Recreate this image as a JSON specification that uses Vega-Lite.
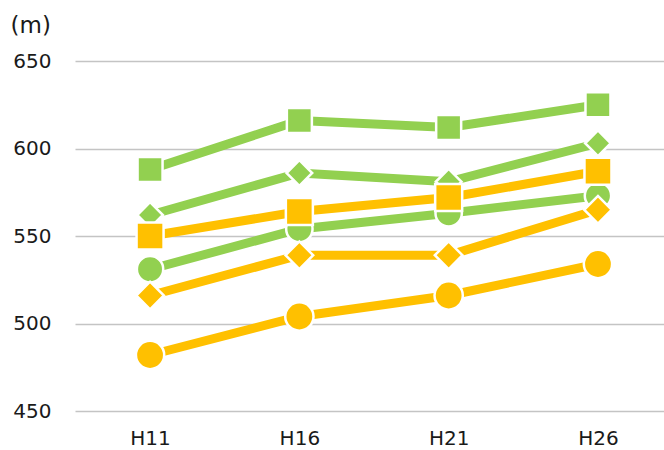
{
  "$schema": "https://vega.github.io/schema/vega-lite/v6.json",
  "width": 589,
  "height": 350,
  "autosize": {"type": "none"},
  "padding": {"left": 75, "top": 61, "right": 0, "bottom": 39},
  "background": "white",
  "config": {
    "font": "DejaVu Sans",
    "view": {"stroke": null}
  },
  "data": {
    "values": [
      {"series": "g1", "year": "H11", "value": 588},
      {"series": "g1", "year": "H16", "value": 616},
      {"series": "g1", "year": "H21", "value": 612},
      {"series": "g1", "year": "H26", "value": 625},
      {"series": "g2", "year": "H11", "value": 562},
      {"series": "g2", "year": "H16", "value": 586},
      {"series": "g2", "year": "H21", "value": 581},
      {"series": "g2", "year": "H26", "value": 603},
      {"series": "g3", "year": "H11", "value": 531},
      {"series": "g3", "year": "H16", "value": 554},
      {"series": "g3", "year": "H21", "value": 563},
      {"series": "g3", "year": "H26", "value": 573},
      {"series": "o1", "year": "H11", "value": 550},
      {"series": "o1", "year": "H16", "value": 564},
      {"series": "o1", "year": "H21", "value": 572},
      {"series": "o1", "year": "H26", "value": 587},
      {"series": "o2", "year": "H11", "value": 516},
      {"series": "o2", "year": "H16", "value": 539},
      {"series": "o2", "year": "H21", "value": 539},
      {"series": "o2", "year": "H26", "value": 565},
      {"series": "o3", "year": "H11", "value": 482},
      {"series": "o3", "year": "H16", "value": 504},
      {"series": "o3", "year": "H21", "value": 516},
      {"series": "o3", "year": "H26", "value": 534}
    ]
  },
  "encoding": {
    "x": {
      "field": "year",
      "type": "ordinal",
      "scale": {"type": "point", "padding": 0.4725, "align": 0.532},
      "axis": {
        "title": null,
        "domain": false,
        "ticks": false,
        "labelAngle": 0,
        "labelFontSize": 20,
        "labelColor": "#1a1a1a",
        "labelPadding": 17
      }
    },
    "y": {
      "field": "value",
      "type": "quantitative",
      "scale": {"domain": [450, 650], "nice": false, "zero": false},
      "axis": {
        "values": [450, 500, 550, 600, 650],
        "title": "(m)",
        "titleAngle": 0,
        "titleAlign": "left",
        "titleBaseline": "middle",
        "titleX": -65,
        "titleY": -36,
        "titleFontSize": 23,
        "titleFontWeight": "normal",
        "titleColor": "#1a1a1a",
        "domain": false,
        "ticks": false,
        "labelFontSize": 20,
        "labelColor": "#1a1a1a",
        "labelPadding": 24,
        "grid": true,
        "gridColor": "#c4c4c4",
        "gridWidth": 1.5
      }
    },
    "color": {
      "field": "series",
      "type": "nominal",
      "scale": {
        "domain": ["g1", "g2", "g3", "o1", "o2", "o3"],
        "range": ["#92D050", "#92D050", "#92D050", "#FFC000", "#FFC000", "#FFC000"]
      },
      "legend": null
    }
  },
  "layer": [
    {
      "mark": {"type": "line", "strokeWidth": 9, "strokeCap": "butt"}
    },
    {
      "mark": {"type": "point", "filled": true, "opacity": 1, "stroke": "white", "strokeWidth": 2.5},
      "encoding": {
        "shape": {
          "field": "series",
          "type": "nominal",
          "scale": {
            "domain": ["g1", "g2", "g3", "o1", "o2", "o3"],
            "range": ["square", "diamond", "circle", "square", "diamond", "circle"]
          },
          "legend": null
        },
        "size": {
          "field": "series",
          "type": "nominal",
          "scale": {
            "domain": ["g1", "g2", "g3", "o1", "o2", "o3"],
            "range": [625, 800, 650, 625, 800, 650]
          },
          "legend": null
        },
        "stroke": {"value": "white"}
      }
    }
  ]
}
